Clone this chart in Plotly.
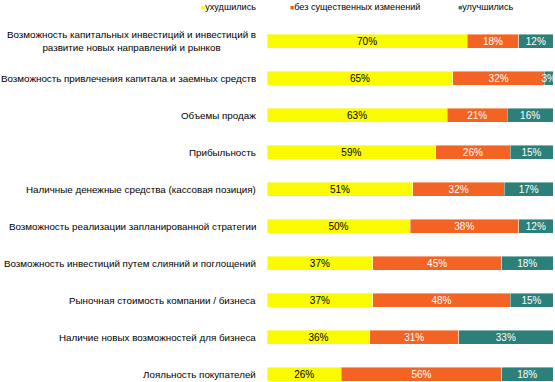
import plotly.graph_objects as go

categories = [
    "Возможность капитальных инвестиций и инвестиций в<br>развитие новых направлений и рынков",
    "Возможность привлечения капитала и заемных средств",
    "Объемы продаж",
    "Прибыльность",
    "Наличные денежные средства (кассовая позиция)",
    "Возможность реализации запланированной стратегии",
    "Возможность инвестиций путем слияний и поглощений",
    "Рыночная стоимость компании / бизнеса",
    "Наличие новых возможностей для бизнеса",
    "Лояльность покупателей",
]
worse = [70, 65, 63, 59, 51, 50, 37, 37, 36, 26]
same = [18, 32, 21, 26, 32, 38, 45, 48, 31, 56]
better = [12, 3, 16, 15, 17, 12, 18, 15, 33, 18]
series_names = ["ухудшились", "без существенных изменений", "улучшились"]
series_values = [worse, same, better]
colors = ["#FAFA00", "#F26324", "#2D7F79"]
text_colors = ["#000000", "#FFFFFF", "#FFFFFF"]

FONT = "Liberation Sans, Arial, sans-serif"
W, H = 555, 382
L, R, T, B = 267, 2, 22, 0
pw = W - L - R
ph = H - T - B

fig = go.Figure()
idx = list(range(len(categories)))
for name, vals, col, tc in zip(series_names, series_values, colors, text_colors):
    fig.add_trace(go.Bar(
        y=idx, x=vals, orientation="h", name=name,
        marker=dict(color=col, line=dict(color="rgba(255,255,255,0.7)", width=0.6)),
        text=[f"{v}%" for v in vals], textposition="inside",
        insidetextanchor="middle", textangle=0, constraintext="none",
        textfont=dict(family=FONT, size=10, color=tc),
        showlegend=False, hoverinfo="skip",
    ))

# y range: first bar center at 41px, spacing 37px
step = 37.0
top_idx = 0 - (41 - T) / step
bot_idx = 0 + (H - B - 41) / step
fig.update_layout(
    barmode="stack",
    bargap=1 - 14 / step,
    width=W, height=H,
    margin=dict(l=L, r=R, t=T, b=B, pad=0),
    paper_bgcolor="white", plot_bgcolor="white",
    xaxis=dict(range=[0, 100], visible=False, fixedrange=True),
    yaxis=dict(range=[bot_idx, top_idx], visible=False, fixedrange=True),
    font=dict(family=FONT, size=10, color="#000"),
)

annotations = []
lab_x = (258 - L) / pw
for i, c in enumerate(categories):
    annotations.append(dict(
        x=lab_x, xref="paper", y=i, yref="y", text=c, showarrow=False,
        xanchor="right", yanchor="middle", align="center",
        font=dict(family=FONT, size=9.8, color="#000"),
    ))

leg_x_px = [199, 288, 456]
leg_y = 1 + (T - 7) / ph
for name, col, px in zip(series_names, colors, leg_x_px):
    annotations.append(dict(
        x=(px - L) / pw, xref="paper", y=leg_y, yref="paper",
        text=f"<span style='color:{col};font-size:7px'>■</span>{name}",
        showarrow=False, xanchor="left", yanchor="middle",
        font=dict(family=FONT, size=9.1, color="#000"),
    ))
fig.update_layout(annotations=annotations)

fig.write_html("out.html", config={"displayModeBar": False},
               post_script="document.body.style.margin='0';document.body.style.overflow='hidden';")
